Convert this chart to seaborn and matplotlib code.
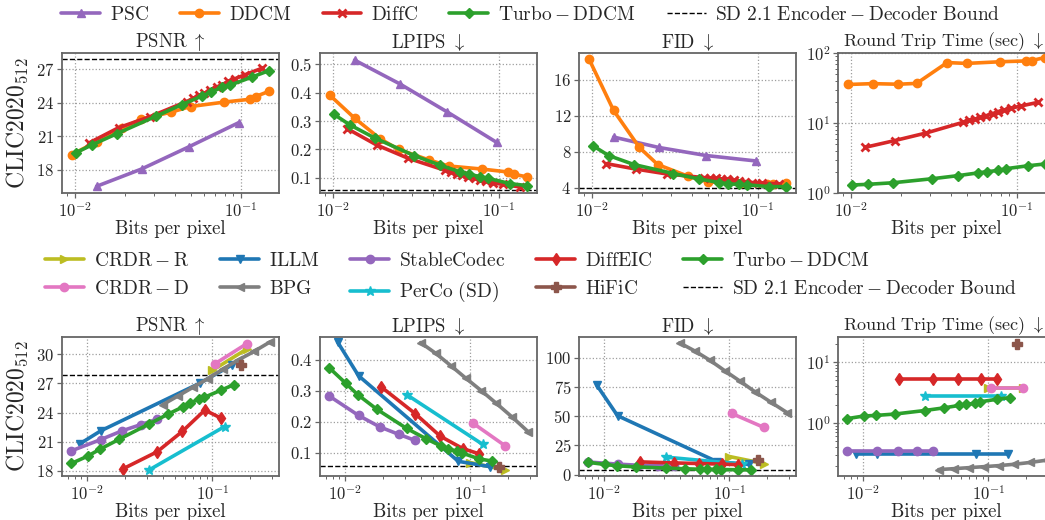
import numpy as np
import matplotlib
matplotlib.use("Agg")
import matplotlib.pyplot as plt
from matplotlib.lines import Line2D
from matplotlib.ticker import MultipleLocator, LogLocator, NullFormatter
import seaborn as sns

# ---------------- top row methods ----------------
psc_bpp = [0.0135, 0.0252, 0.0488, 0.097]
psc_psnr = [16.5, 18.05, 20.05, 22.2]
psc_lpips = [0.514, 0.431, 0.332, 0.225]
psc_fid = [9.65, 8.5, 7.6, 7.0]

ddcm_bpp = [0.0096, 0.0135, 0.0193, 0.0249, 0.038, 0.0498, 0.0795, 0.113, 0.123, 0.147]
ddcm_psnr = [19.35, 20.5, 21.7, 22.5, 23.15, 23.65, 24.05, 24.3, 24.55, 25.0]
ddcm_lpips = [0.39, 0.31, 0.237, 0.20, 0.163, 0.142, 0.131, 0.121, 0.113, 0.104]
ddcm_fid = [18.3, 12.6, 8.5, 6.6, 5.3, 4.7, 4.5, 4.4, 4.4, 4.5]
ddcm_rtt = [35.5, 36.5, 35.8, 36.8, 73, 71, 75, 77, 78, 86]

diffc_bpp = [0.0122, 0.0183, 0.0284, 0.0472, 0.0518, 0.0563, 0.0604, 0.0653,
             0.0716, 0.0767, 0.0843, 0.0925, 0.106, 0.135]
diffc_psnr = [20.4, 21.75, 22.75, 24.1, 24.4, 24.65, 24.85, 25.1, 25.4, 25.6,
              25.9, 26.15, 26.5, 27.1]
diffc_lpips = [0.273, 0.216, 0.169, 0.127, 0.12, 0.114, 0.109, 0.104, 0.098,
               0.094, 0.088, 0.083, 0.077, 0.068]
diffc_fid = [6.7, 6.1, 5.55, 5.15, 5.1, 5.05, 5.0, 4.95, 4.85, 4.8, 4.7, 4.6, 4.55, 4.45]
diffc_rtt = [4.5, 5.6, 7.2, 10.2, 10.9, 11.4, 12.05, 12.7, 13.6, 14.5, 15.4,
             16.3, 17.5, 19.8]

# Turbo-DDCM (first operating point only evaluated in the lower comparison)
turbo_bpp = [0.0075, 0.0101, 0.0126, 0.0179, 0.031, 0.0442, 0.0585, 0.0665,
             0.0775, 0.0855, 0.117, 0.148]
turbo_psnr = [18.75, 19.5, 20.2, 21.22, 22.8, 23.83, 24.6, 24.95, 25.4, 25.55,
              26.3, 26.87]
turbo_lpips = [0.373, 0.324, 0.287, 0.24, 0.178, 0.145, 0.121, 0.113, 0.104,
               0.099, 0.080, 0.073]
turbo_fid = [10.5, 8.7, 7.6, 6.6, 5.6, 5.0, 4.6, 4.45, 4.4, 4.35, 4.15, 4.15]
turbo_rtt = [1.18, 1.3, 1.33, 1.4, 1.6, 1.77, 1.94, 2.02, 2.1, 2.22, 2.45, 2.6]

# ---------------- lower row methods ----------------
crdr_r_bpp = [0.1, 0.188]
crdr_r_psnr = [28.35, 30.55]
crdr_r_lpips = [0.068, 0.045]
crdr_r_fid = [15.5, 9.5]
crdr_r_rtt = [3.8, 3.8]

crdr_d_bpp = [0.104, 0.188]
crdr_d_psnr = [29.0, 31.1]
crdr_d_lpips = [0.196, 0.123]
crdr_d_fid = [52.5, 40.5]
crdr_d_rtt = [3.8, 3.8]

illm_bpp = [0.0087, 0.0128, 0.08, 0.143]
illm_psnr = [20.75, 22.1, 27.05, 28.9]
illm_lpips = [0.457, 0.348, 0.072, 0.055]
illm_fid = [77.0, 50.5, 11.0, 8.8]
illm_rtt = [0.305, 0.305, 0.305, 0.305]

bpg_bpp = [0.040, 0.053, 0.070, 0.092, 0.122, 0.160, 0.215, 0.29]
bpg_psnr = [24.8, 25.7, 26.6, 27.5, 28.5, 29.4, 30.3, 31.3]
bpg_lpips = [0.455, 0.42, 0.38, 0.34, 0.30, 0.26, 0.215, 0.167]
bpg_fid = [113, 106, 98, 89, 80, 71, 62, 53]
bpg_rtt = [0.172, 0.178, 0.185, 0.192, 0.2, 0.21, 0.225, 0.245]

stable_bpp = [0.0075, 0.0128, 0.0189, 0.0268, 0.0359]
stable_psnr = [20.05, 21.2, 22.1, 22.75, 23.3]
stable_lpips = [0.282, 0.22, 0.183, 0.159, 0.14]
stable_fid = [10.8, 9.0, 8.0, 7.5, 7.2]
stable_rtt = [0.347, 0.347, 0.347, 0.347, 0.347]

perco_bpp = [0.031, 0.125]
perco_psnr = [18.05, 22.55]
perco_lpips = [0.287, 0.127]
perco_fid = [15.0, 9.0]
perco_rtt = [2.75, 2.75]

diffeic_bpp = [0.0194, 0.0362, 0.0575, 0.087, 0.118]
diffeic_psnr = [18.2, 19.95, 22.05, 24.25, 23.4]
diffeic_lpips = [0.312, 0.226, 0.153, 0.113, 0.096]
diffeic_fid = [10.9, 10.0, 9.5, 9.0, 8.5]
diffeic_rtt = [5.2, 5.2, 5.2, 5.2, 5.2]

hific_bpp = [0.17]
hific_psnr = [28.9]
hific_lpips = [0.054]
hific_fid = [12.3]
hific_rtt = [20.0]

# SD 2.1 encoder-decoder reference levels
bound_psnr = 27.88
bound_lpips = 0.056
bound_fid = 3.95

# ---------------- styling ----------------
sns.set_theme(style="whitegrid")
plt.rcParams.update({
    "font.family": "serif",
    "font.serif": ["cmr10", "DejaVu Serif"],
    "mathtext.fontset": "cm",
    "axes.formatter.use_mathtext": True,
    "axes.unicode_minus": False,
})

C = {
    "purple": "#9467bd", "orange": "#ff7f0e", "red": "#d62728", "green": "#2ca02c",
    "olive": "#bcbd22", "pink": "#e377c2", "blue": "#1f77b4", "gray": "#7f7f7f",
    "cyan": "#17becf", "brown": "#8c564b",
}

LW = 2.6

def style(color, marker, ms=6.0, mew=1.0):
    return dict(color=color, marker=marker, ms=ms, mew=mew, mec=color, mfc=color, lw=LW)

top_methods = [
    (r"$\mathrm{PSC}$", style(C["purple"], "^"),
     dict(bpp=psc_bpp, psnr=psc_psnr, lpips=psc_lpips, fid=psc_fid, rtt=None)),
    (r"$\mathrm{DDCM}$", style(C["orange"], "o"),
     dict(bpp=ddcm_bpp, psnr=ddcm_psnr, lpips=ddcm_lpips, fid=ddcm_fid, rtt=ddcm_rtt)),
    (r"$\mathrm{DiffC}$", style(C["red"], "x", ms=6, mew=2.0),
     dict(bpp=diffc_bpp, psnr=diffc_psnr, lpips=diffc_lpips, fid=diffc_fid, rtt=diffc_rtt)),
    (r"$\mathrm{Turbo-DDCM}$", style(C["green"], "D", ms=5.5),
     dict(bpp=turbo_bpp[1:], psnr=turbo_psnr[1:], lpips=turbo_lpips[1:],
          fid=turbo_fid[1:], rtt=turbo_rtt[1:])),
]

bottom_methods = [
    (r"$\mathrm{CRDR-R}$", style(C["olive"], ">"),
     dict(bpp=crdr_r_bpp, psnr=crdr_r_psnr, lpips=crdr_r_lpips, fid=crdr_r_fid, rtt=crdr_r_rtt)),
    (r"$\mathrm{CRDR-D}$", style(C["pink"], "o"),
     dict(bpp=crdr_d_bpp, psnr=crdr_d_psnr, lpips=crdr_d_lpips, fid=crdr_d_fid, rtt=crdr_d_rtt)),
    (r"$\mathrm{ILLM}$", style(C["blue"], "v"),
     dict(bpp=illm_bpp, psnr=illm_psnr, lpips=illm_lpips, fid=illm_fid, rtt=illm_rtt)),
    (r"$\mathrm{BPG}$", style(C["gray"], "<"),
     dict(bpp=bpg_bpp, psnr=bpg_psnr, lpips=bpg_lpips, fid=bpg_fid, rtt=bpg_rtt)),
    (r"$\mathrm{StableCodec}$", style(C["purple"], "o"),
     dict(bpp=stable_bpp, psnr=stable_psnr, lpips=stable_lpips, fid=stable_fid, rtt=stable_rtt)),
    (r"$\mathrm{PerCo\ (SD)}$", style(C["cyan"], "*", ms=7),
     dict(bpp=perco_bpp, psnr=perco_psnr, lpips=perco_lpips, fid=perco_fid, rtt=perco_rtt)),
    (r"$\mathrm{DiffEIC}$", style(C["red"], "d", ms=6.5),
     dict(bpp=diffeic_bpp, psnr=diffeic_psnr, lpips=diffeic_lpips, fid=diffeic_fid, rtt=diffeic_rtt)),
    (r"$\mathrm{HiFiC}$", style(C["brown"], "P", ms=6.5),
     dict(bpp=hific_bpp, psnr=hific_psnr, lpips=hific_lpips, fid=hific_fid, rtt=hific_rtt)),
    (r"$\mathrm{Turbo-DDCM}$", style(C["green"], "D", ms=5.5),
     dict(bpp=turbo_bpp, psnr=turbo_psnr, lpips=turbo_lpips, fid=turbo_fid, rtt=turbo_rtt)),
]

bound_label = r"$\mathrm{SD\ 2.1\ Encoder-Decoder\ Bound}$"

metrics = [
    ("psnr", r"$\mathrm{PSNR}\ \uparrow$", bound_psnr),
    ("lpips", r"$\mathrm{LPIPS}\ \downarrow$", bound_lpips),
    ("fid", r"$\mathrm{FID}\ \downarrow$", bound_fid),
    ("rtt", r"$\mathrm{Round\ Trip\ Time\ (sec)}\ \downarrow$", None),
]

W, H = 1045, 520
fig = plt.figure(figsize=(W / 100, H / 100), dpi=100)
lefts = [62, 320, 579, 838]
AX_W = 217


def make_ax(left, top, bottom):
    return fig.add_axes([left / W, 1 - bottom / H, AX_W / W, (bottom - top) / H])


def finish(ax):
    ax.set_xscale("log")
    ax.grid(True, which="major", ls=":", color="0.62", lw=0.9)
    ax.grid(False, which="minor")
    for sp in ax.spines.values():
        sp.set_color("0.4")
        sp.set_linewidth(1.3)
    ax.tick_params(which="both", bottom=True, left=True, direction="out",
                   color="0.4", labelsize=12, pad=2)
    ax.tick_params(which="major", length=3.5, width=0.9)
    ax.tick_params(which="minor", length=2, width=0.7)
    ax.xaxis.set_minor_formatter(NullFormatter())
    ax.set_facecolor("white")


def draw_row(methods, top, bottom, ylims, ylocs):
    axes = []
    for i, (key, title, bound) in enumerate(metrics):
        ax = make_ax(lefts[i], top, bottom)
        for label, st, d in methods:
            if d[key] is None:
                continue
            sns.lineplot(x=np.asarray(d["bpp"]), y=np.asarray(d[key]), ax=ax,
                         estimator=None, sort=False, errorbar=None, legend=False,
                         **st)
        if bound is not None:
            ax.axhline(bound, color="black", ls="--", lw=1.0, zorder=1.5)
        finish(ax)
        if key == "rtt":
            ax.set_yscale("log")
            ax.yaxis.set_major_locator(LogLocator(base=10, numticks=10))
            ax.yaxis.set_minor_formatter(NullFormatter())
            ax.set_title(title, fontsize=13, pad=3, x=0.485)
        else:
            ax.yaxis.set_major_locator(MultipleLocator(ylocs[i]))
            ax.set_title(title, fontsize=13.5, pad=3)
        ax.set_ylim(*ylims[i])
        ax.set_xlabel("Bits per pixel", fontsize=13.5, labelpad=0)
        ax.set_ylabel("")
        if i == 0:
            ax.set_ylabel(r"$\mathrm{CLIC2020}_{512}$", fontsize=17, labelpad=4)
        axes.append(ax)
    return axes


top_axes = draw_row(top_methods, 53, 193,
                    [(15.9, 28.45), (0.047, 0.539), (3.44, 18.98), (1, 100)],
                    [3, 0.1, 4, None])
for ax in top_axes:
    ax.set_xlim(0.00835, 0.17)

bot_axes = draw_row(bottom_methods, 337, 476,
                    [(17.45, 31.79), (0.0247, 0.473), (-1.2, 118), (0.135, 25.7)],
                    [3, 0.1, 25, None])
for ax in bot_axes:
    ax.set_xlim(0.0063, 0.34)


def handles_for(methods):
    hs, ls = [], []
    for label, st, d in methods:
        hs.append(Line2D([], [], **st))
        ls.append(label)
    return hs, ls


hs, ls = handles_for(top_methods)
hs.append(Line2D([], [], color="black", ls="--", lw=1.0))
ls.append(bound_label)
fig.legend(hs, ls, loc="center", bbox_to_anchor=(0.508, 1 - 15 / H), ncol=5,
           frameon=False, fontsize=14, handlelength=2.0, handletextpad=0.5,
           columnspacing=1.6, borderaxespad=0)

hs, ls = handles_for(bottom_methods)
hs.append(Line2D([], [], color="black", ls="--", lw=1.0))
ls.append(bound_label)
fig.legend(hs, ls, loc="center", bbox_to_anchor=(0.508, 1 - 278 / H), ncol=5,
           frameon=False, fontsize=14, handlelength=2.0, handletextpad=0.5,
           columnspacing=1.6, labelspacing=0.55, borderaxespad=0)

fig.savefig("out.png", dpi=100, facecolor="white")
